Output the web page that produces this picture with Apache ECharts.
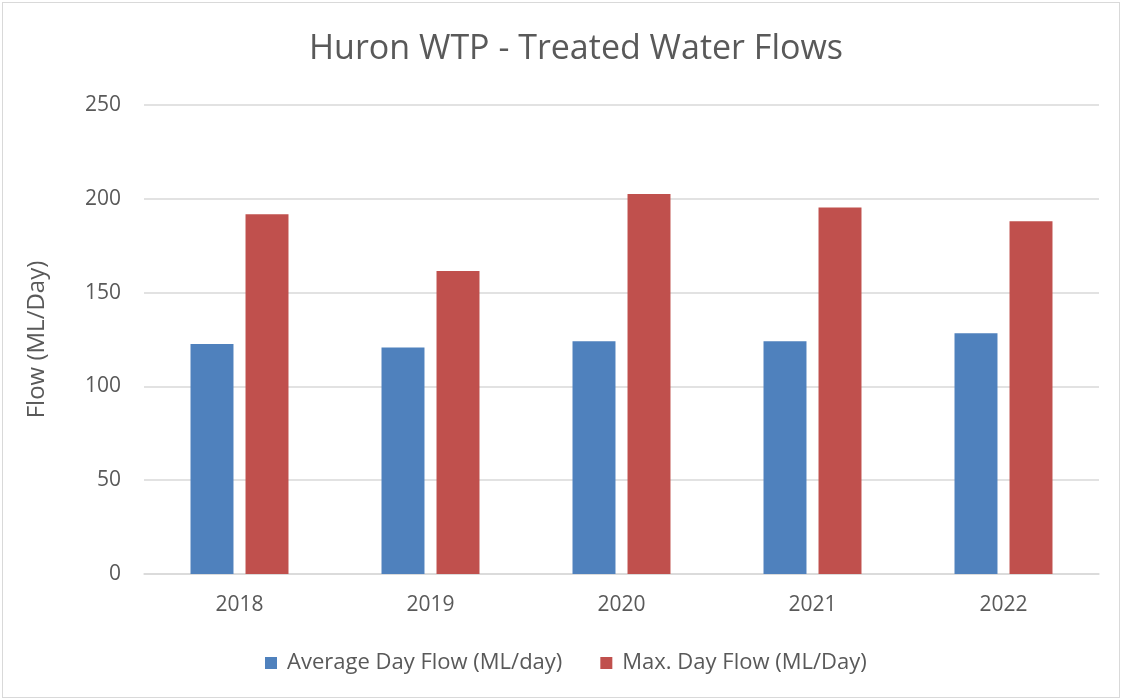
<!DOCTYPE html>
<html>
<head>
<meta charset="utf-8">
<script src="https://cdn.jsdelivr.net/npm/echarts@6/dist/echarts.min.js"></script>
<style>
  html, body { margin: 0; padding: 0; background: #fff; }
  #main { width: 1116px; height: 694px; border: 1px solid #d9d9d9; margin: 2px; }
</style>
</head>
<body>
<div id="main"></div>
<script>
// 年份
const years = ["2018", "2019", "2020", "2021", "2022"];
// 平均日流量
const avgFlow = [122.6, 120.7, 124.1, 124.1, 128.3];
// 最大日流量
const maxFlow = [191.8, 161.5, 202.5, 195.3, 188.0];

const font = "'Open Sans', 'Noto Sans', sans-serif";
const chart = echarts.init(document.getElementById("main"));

const option = {
  animation: false,
  title: {
    text: "Huron WTP - Treated Water Flows",
    left: 568,
    textAlign: "center",
    top: 24,
    textStyle: { fontFamily: font, fontSize: 34, fontWeight: "normal", color: "#595959" }
  },
  legend: {
    bottom: 18,
    left: 257,
    itemWidth: 12,
    itemHeight: 12,
    itemGap: 38,
    icon: "rect",
    textStyle: { fontFamily: font, fontSize: 22, color: "#595959", padding: [0, 0, 0, 5] },
    data: ["Average Day Flow (ML/day)", "Max. Day Flow (ML/Day)"]
  },
  grid: { left: 141, right: 20, top: 102, bottom: 123 },
  xAxis: {
    type: "category",
    data: years,
    axisLine: { lineStyle: { color: "#d9d9d9", width: 1.5 } },
    axisTick: { show: false },
    axisLabel: { fontFamily: font, fontSize: 21, color: "#595959", margin: 21 }
  },
  yAxis: {
    type: "value",
    min: 0,
    max: 250,
    interval: 50,
    name: "Flow (ML/Day)",
    nameLocation: "middle",
    nameGap: 95,
    nameTextStyle: { fontFamily: font, fontSize: 24, color: "#595959" },
    axisLine: { show: false },
    axisTick: { show: false },
    axisLabel: { fontFamily: font, fontSize: 21, color: "#595959", margin: 23 },
    splitLine: { lineStyle: { color: "#d9d9d9", width: 1.5 } }
  },
  series: [
    {
      name: "Average Day Flow (ML/day)",
      type: "bar",
      data: avgFlow,
      barWidth: "22.5%",
      barGap: "28%",
      itemStyle: { color: "#4F81BD" }
    },
    {
      name: "Max. Day Flow (ML/Day)",
      type: "bar",
      data: maxFlow,
      barWidth: "22.5%",
      barGap: "28%",
      itemStyle: { color: "#C0504D" }
    }
  ]
};

chart.setOption(option);
</script>
</body>
</html>
